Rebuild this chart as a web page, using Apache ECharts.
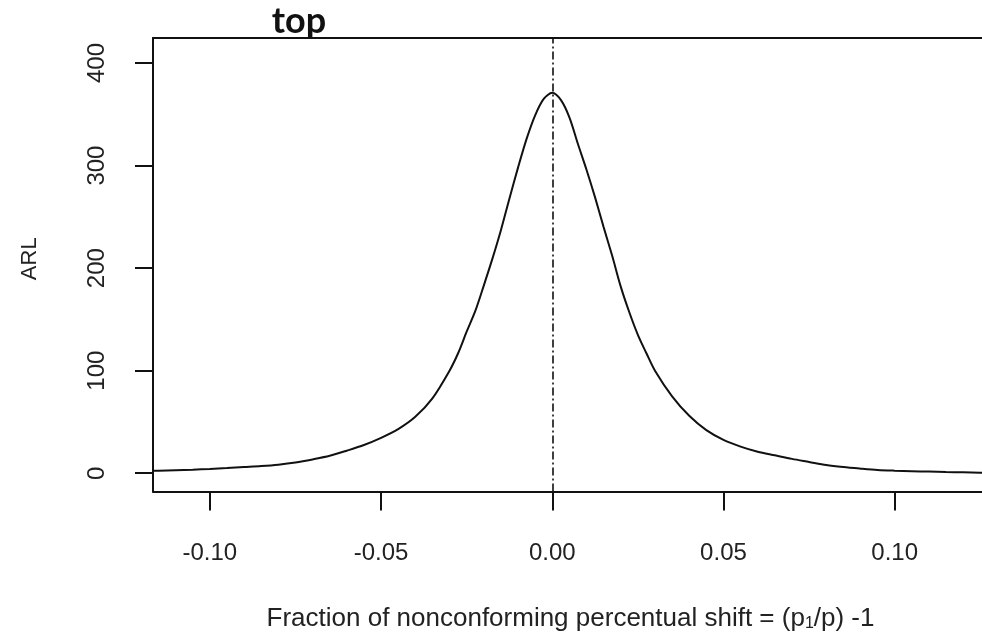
<!DOCTYPE html>
<html>
<head>
<meta charset="utf-8">
<script src="https://cdn.jsdelivr.net/npm/echarts@6/dist/echarts.min.js"></script>
<style>
html,body{margin:0;padding:0;background:#fff;}
#chart{width:982px;height:641px;}
</style>
</head>
<body>
<div id="chart"></div>
<script>
// percentual shift values (x) and ARL
const shiftValues = [-0.12,-0.115,-0.11,-0.105,-0.10,-0.095,-0.09,-0.085,-0.08,-0.075,-0.07,-0.065,-0.06,-0.055,-0.05,-0.045,-0.04,-0.035,
  -0.03,-0.0275,-0.025,-0.0225,-0.02,-0.0175,-0.015,-0.0125,-0.01,-0.0075,-0.005,-0.0025,0,
  0.0025,0.005,0.0075,0.01,0.0125,0.015,0.0175,0.02,0.0225,0.025,0.0275,0.03,
  0.035,0.04,0.045,0.05,0.055,0.06,0.065,0.07,0.075,0.08,0.085,0.09,0.095,0.10,0.105,0.11,0.115,0.12,0.125,0.13];
const arlValues = [2.3,2.5,3.0,3.5,4.2,5.0,6.0,7.0,8.4,10.5,13.5,17,22,27.5,34.5,43,55,73,
  100,117,138,158,183,209,237,268,298,326,349,365,371,
  364,347,321,296,269,240,212,182,157,135,117,100,
  75,56,42,32.5,26,21,17.5,14,11,8,6,4.5,3.2,2.5,2,1.6,1.2,0.9,0.6,0.5];
const xTickValues = [-0.10,-0.05,0.00,0.05,0.10];
const yTickValues = [0,100,200,300,400];
const markerShift = 0;
const chartTitle = 'top';
const xTitle = 'Fraction of nonconforming percentual shift = (p{sub|1}/p) -1';
const yTitle = 'ARL';

const chart = echarts.init(document.getElementById('chart'));
const lineData = shiftValues.map((x, i) => [x, arlValues[i]]);
const ink = '#111';
const textInk = '#222';
const font = '"Liberation Sans", Arial, sans-serif';
const xMin = -0.1166, xMax = 0.1255;

chart.setOption({
  animation: false,
  backgroundColor: '#fff',
  graphic: [{
    type: 'text',
    style: {
      x: 299, y: 21, text: chartTitle,
      align: 'center', verticalAlign: 'middle',
      font: 'bold 36px Lato, "DejaVu Sans", sans-serif',
      fill: '#111'
    }
  }],
  grid: { left: 153, top: 38, right: 0, height: 453.5, show: false },
  xAxis: [{
    type: 'value', position: 'bottom',
    min: xMin, max: xMax,
    axisLine: { show: true, onZero: false, lineStyle: { color: ink, width: 2 } },
    splitLine: { show: false },
    axisTick: { show: true, length: 19, inside: false, customValues: xTickValues, lineStyle: { color: ink, width: 2 } },
    axisLabel: {
      customValues: xTickValues, margin: 50,
      formatter: v => v.toFixed(2),
      fontFamily: font, fontSize: 24, color: textInk
    },
    name: xTitle, nameLocation: 'middle', nameGap: 114,
    nameTextStyle: {
      fontFamily: font, fontSize: 26, color: textInk, padding: [0, 0, 0, 6],
      rich: { sub: { fontFamily: font, fontSize: 16, color: textInk, verticalAlign: 'bottom', padding: [9, 0, 0, 0] } }
    }
  }, {
    type: 'value', position: 'top',
    min: xMin, max: xMax,
    axisLine: { show: true, onZero: false, lineStyle: { color: ink, width: 2 } },
    splitLine: { show: false }, axisTick: { show: false }, axisLabel: { show: false }
  }],
  yAxis: {
    type: 'value', position: 'left',
    min: -17.8, max: 424.4,
    axisLine: { show: true, onZero: false, lineStyle: { color: ink, width: 2 } },
    splitLine: { show: false },
    axisTick: { show: true, length: 18, inside: false, customValues: yTickValues, lineStyle: { color: ink, width: 2 } },
    axisLabel: {
      customValues: yTickValues, rotate: 90, margin: 44,
      fontFamily: font, fontSize: 24, color: textInk
    },
    name: yTitle, nameLocation: 'middle', nameGap: 112, nameRotate: 90,
    nameTextStyle: { fontFamily: font, fontSize: 22, color: textInk, padding: [0, 0, 0, 12] }
  },
  series: [{
    type: 'line',
    xAxisIndex: 0,
    data: lineData,
    smooth: 0.3,
    showSymbol: false,
    symbol: 'none',
    clip: true,
    lineStyle: { color: ink, width: 2 },
    markLine: {
      silent: true, symbol: 'none',
      label: { show: false },
      lineStyle: { color: ink, width: 1.6, type: [8, 3, 2, 3] },
      data: [{ xAxis: markerShift }]
    }
  }]
});
</script>
</body>
</html>
